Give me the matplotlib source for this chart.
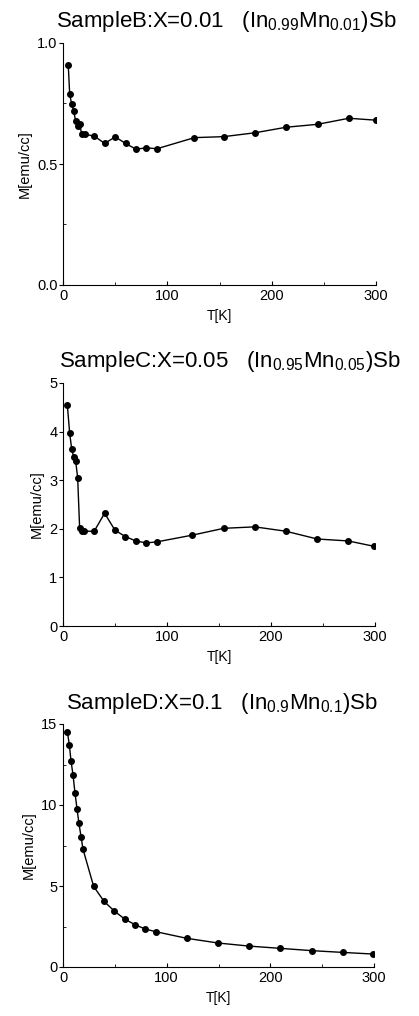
import numpy as np
import matplotlib.pyplot as plt
from matplotlib.ticker import MultipleLocator

plt.rcParams['font.family'] = ['Liberation Sans', 'DejaVu Sans']
plt.rcParams['mathtext.default'] = 'regular'

# SampleB  X=0.01
T_B = [5, 6.4, 8.3, 10.2, 12.2, 14, 16, 18, 21, 30, 40, 50, 60, 70, 80, 90,
       126, 154, 184, 214, 244, 274, 300]
M_B = [0.911, 0.791, 0.746, 0.718, 0.678, 0.656, 0.664, 0.622, 0.623, 0.615,
       0.585, 0.612, 0.585, 0.561, 0.567, 0.563, 0.609, 0.613, 0.629, 0.652,
       0.664, 0.689, 0.681]

# SampleC  X=0.05
T_C = [4.2, 6.4, 8.3, 10.3, 12.2, 14.1, 16, 18, 20, 30, 40, 50, 60, 70, 80, 90,
       124.5, 154.6, 184.4, 214.3, 244.5, 274.3, 299]
M_C = [4.54, 3.97, 3.65, 3.47, 3.39, 3.05, 2.01, 1.95, 1.95, 1.95, 2.32, 1.97,
       1.84, 1.75, 1.71, 1.73, 1.87, 2.01, 2.04, 1.95, 1.79, 1.75, 1.64]

# SampleD  X=0.1
T_D = [4.2, 6.1, 7.7, 9.7, 11.6, 13.5, 15.4, 17.4, 19.3, 29.6, 39.6, 49.6,
       59.5, 69.5, 79.5, 89.5, 119.4, 149.7, 179.6, 209.8, 239.8, 270, 299]
M_D = [14.53, 13.72, 12.74, 11.83, 10.73, 9.78, 8.86, 8.05, 7.27, 4.97, 4.05,
       3.45, 2.96, 2.61, 2.34, 2.18, 1.77, 1.48, 1.29, 1.15, 1.01, 0.90, 0.80]

titles = [r'SampleB:X=0.01   (In$_{0.99}$Mn$_{0.01}$)Sb',
          r'SampleC:X=0.05   (In$_{0.95}$Mn$_{0.05}$)Sb',
          r'SampleD:X=0.1   (In$_{0.9}$Mn$_{0.1}$)Sb']
ylims = [(0, 1.0), (0, 5), (0, 15)]
ymajor = [0.5, 1, 5]
yminor = [0.25, None, 2.5]
yfmt = ['%.1f', '%d', '%d']
series = [(T_B, M_B), (T_C, M_C), (T_D, M_D)]

W, H = 419, 1016
fig = plt.figure(figsize=(W / 100, H / 100), dpi=100)

# axes boxes in pixels: left, top, right, bottom
boxes = [(63, 43, 376, 285), (63, 383, 375, 626), (63, 724, 374, 967)]
title_y = [22, 362, 703]
title_x = [226, 230, 222]

for k in range(3):
  l, t, r, b = boxes[k]
  ax = fig.add_axes([l / W, 1 - b / H, (r - l) / W, (b - t) / H])
  T, M = series[k]
  ax.plot(T, M, color='black', lw=1.0, marker='o', ms=4, mfc='black', mec='black')
  ax.set_xlim(0, 300)
  ax.set_ylim(*ylims[k])
  ax.spines['top'].set_visible(False)
  ax.spines['right'].set_visible(False)
  ax.xaxis.set_major_locator(MultipleLocator(100))
  ax.xaxis.set_minor_locator(MultipleLocator(50))
  ax.yaxis.set_major_locator(MultipleLocator(ymajor[k]))
  if yminor[k]:
    ax.yaxis.set_minor_locator(MultipleLocator(yminor[k]))
  ax.yaxis.set_major_formatter(plt.FormatStrFormatter(yfmt[k]))
  ax.tick_params(axis='x', which='major', direction='in', length=3, labelsize=10.5, pad=3)
  ax.tick_params(axis='x', which='minor', direction='in', length=2)
  ax.tick_params(axis='y', which='major', direction='out', length=3, labelsize=10.5, pad=1)
  ax.tick_params(axis='y', which='minor', direction='in', length=2)
  ax.set_xlabel('T[K]', fontsize=10, labelpad=4)
  ax.set_ylabel('M[emu/cc]', fontsize=10.5, labelpad=4)
  fig.text(title_x[k] / W, 1 - title_y[k] / H, titles[k], ha='center', va='center', fontsize=16)

fig.savefig('out.png', dpi=100)
